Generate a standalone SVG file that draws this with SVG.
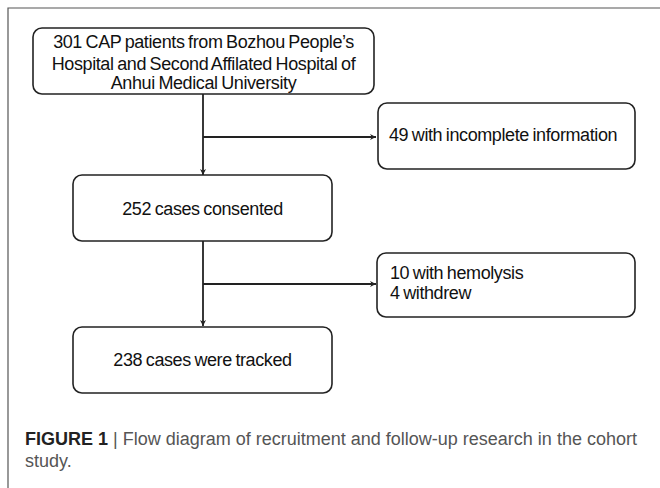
<svg xmlns="http://www.w3.org/2000/svg" width="660" height="488" viewBox="0 0 660 488">
<style>
.box{fill:#fff;stroke:#222;stroke-width:1.6}
.t{font-family:"Liberation Sans",Arial,sans-serif;font-size:18px;letter-spacing:-0.4px;word-spacing:-1px;fill:#111}
.c{text-anchor:middle}
.ln{fill:none;stroke:#222;stroke-width:1.8}
.cap{font-family:"Liberation Sans",Arial,sans-serif;font-size:18px;fill:#555}
</style>
<defs>
<marker id="ah" viewBox="0 0 10 10" refX="10" refY="5" markerWidth="6" markerHeight="6" orient="auto" markerUnits="userSpaceOnUse">
<path d="M0,0 L10,5 L0,10 L3,5 Z" fill="#222"/>
</marker>
</defs>
<rect width="660" height="488" fill="#fff"/>
<path d="M8,488 V8 H660" fill="none" stroke="#555" stroke-width="1.2"/>
<g id="connectors">
<path class="ln" d="M203,94 V175" marker-end="url(#ah)"/>
<path class="ln" d="M203,137 H376" marker-end="url(#ah)"/>
<path class="ln" d="M203,241 V326" marker-end="url(#ah)"/>
<path class="ln" d="M203,284 H376" marker-end="url(#ah)"/>
</g>
<g id="n1">
<rect class="box" x="33" y="28" width="341" height="66" rx="9"/>
<text class="t c" x="203.5" y="48">301 CAP patients from Bozhou People’s</text>
<text class="t c" x="203.5" y="70">Hospital and Second Affilated Hospital of</text>
<text class="t c" x="203.5" y="89">Anhui Medical University</text>
</g>
<g id="n2">
<rect class="box" x="378" y="103" width="257" height="66" rx="9"/>
<text class="t" x="389" y="141">49 with incomplete information</text>
</g>
<g id="n3">
<rect class="box" x="73" y="175" width="259" height="66" rx="9"/>
<text class="t c" x="202.5" y="215">252 cases consented</text>
</g>
<g id="n4">
<rect class="box" x="377" y="253" width="258" height="64" rx="9"/>
<text class="t" x="390" y="279">10 with hemolysis</text>
<text class="t" x="390" y="299">4 withdrew</text>
</g>
<g id="n5">
<rect class="box" x="73" y="327" width="259" height="66" rx="9"/>
<text class="t c" x="202.5" y="366">238 cases were tracked</text>
</g>
<text class="cap" x="25" y="445"><tspan font-weight="bold" fill="#222">FIGURE 1</tspan> | Flow diagram of recruitment and follow-up research in the cohort</text>
<text class="cap" x="25" y="467">study.</text>
</svg>
